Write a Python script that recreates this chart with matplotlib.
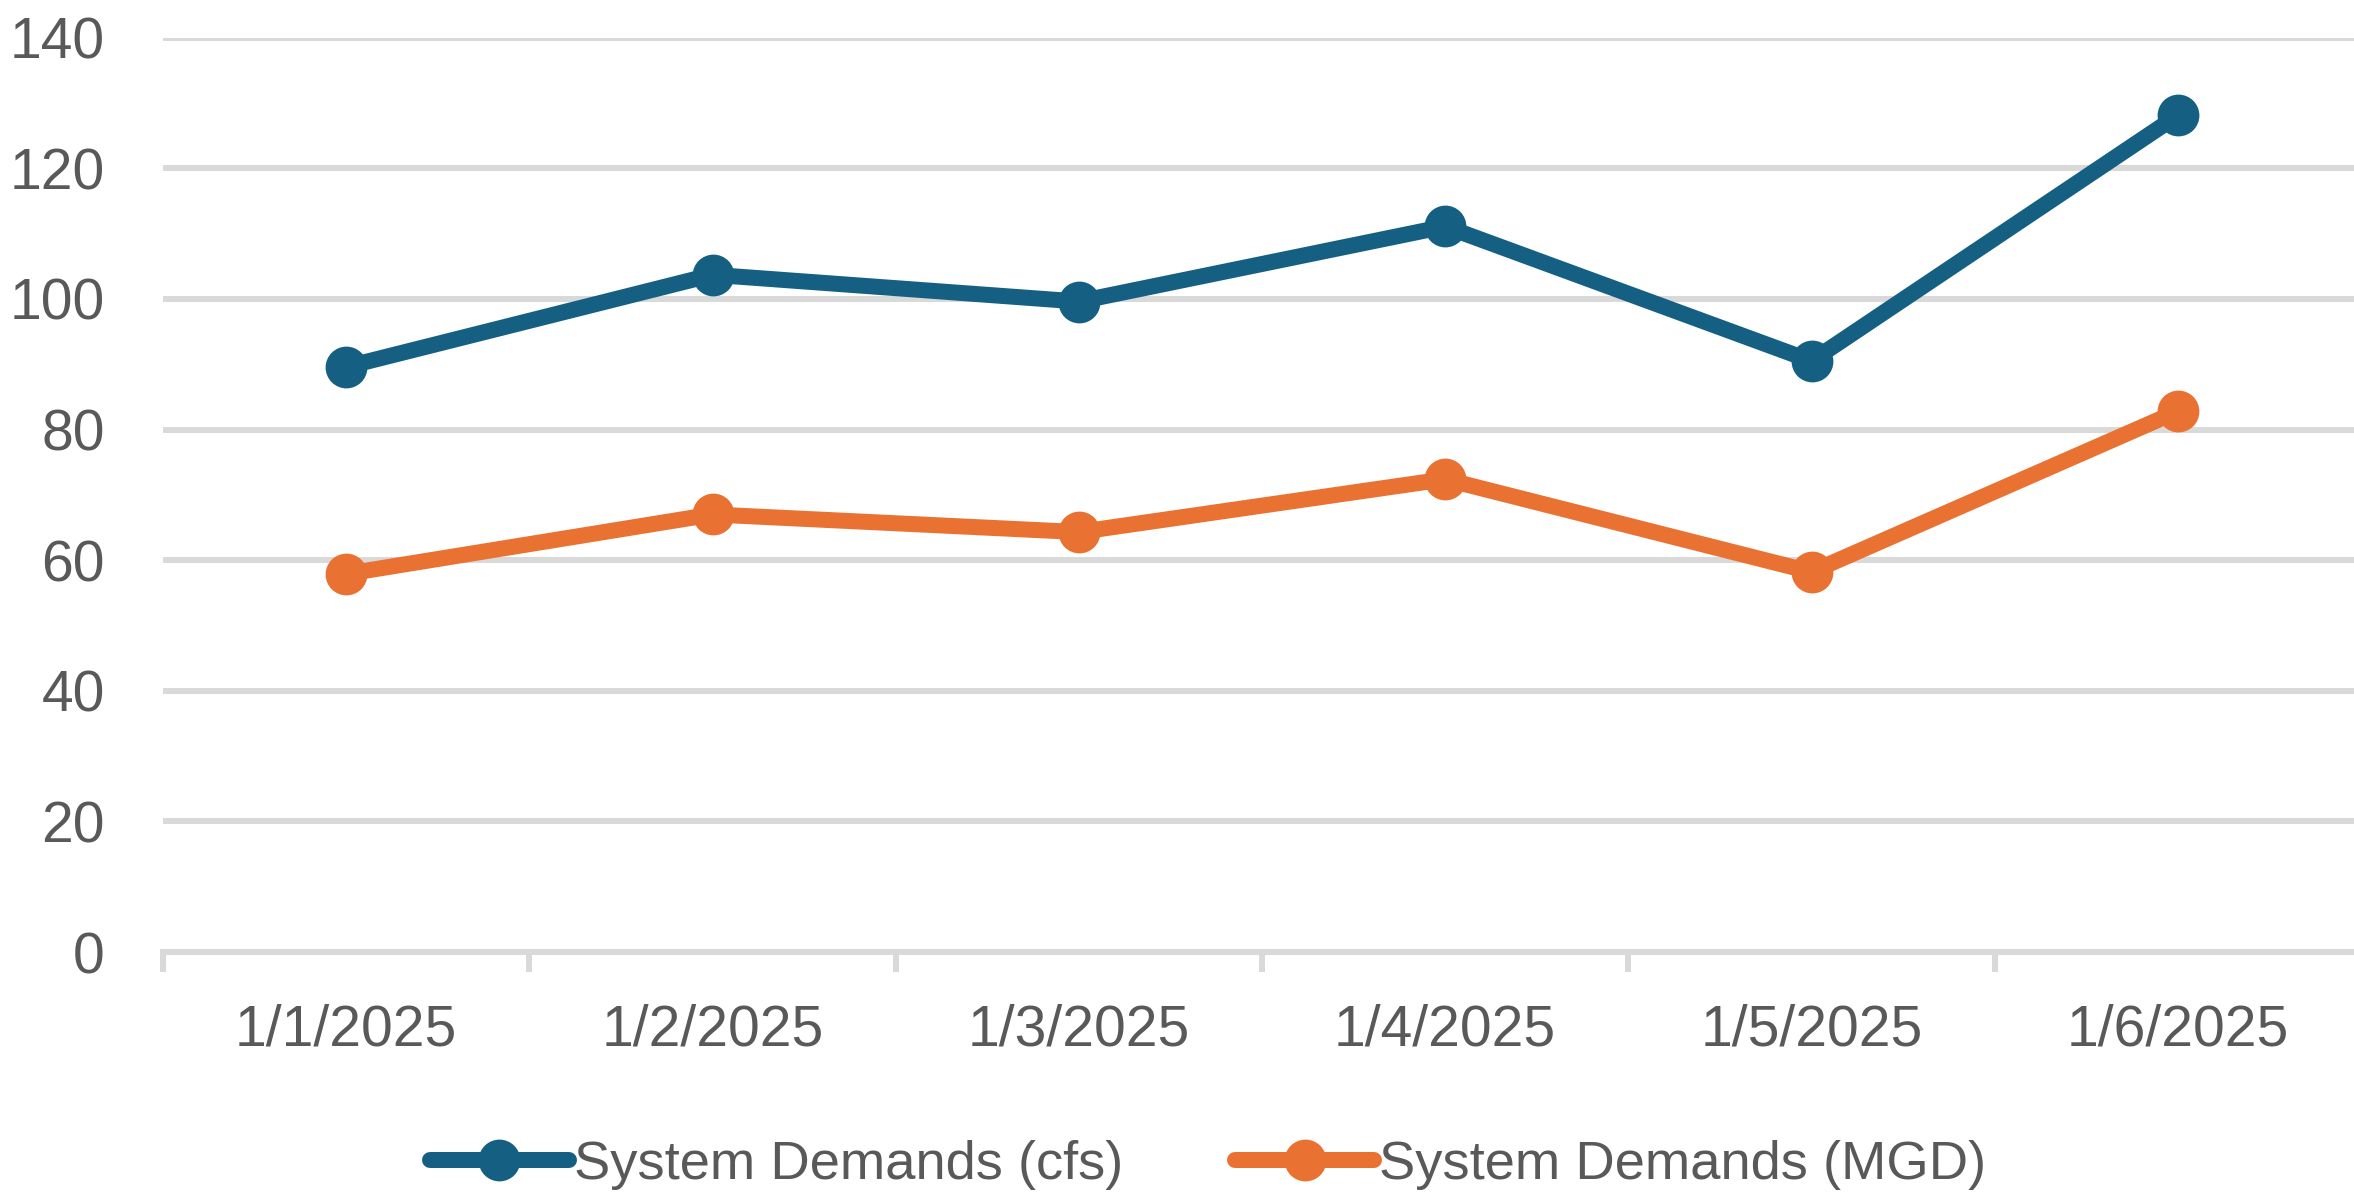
import matplotlib
matplotlib.use("Agg")
import matplotlib.pyplot as plt
from matplotlib.ticker import FixedLocator, NullFormatter, FixedFormatter

# ---- data ----
categories = ["1/1/2025", "1/2/2025", "1/3/2025", "1/4/2025", "1/5/2025", "1/6/2025"]
cfs_values = [89.6, 103.7, 99.6, 111.1, 90.5, 128.1]
mgd_values = [57.9, 67.0, 64.3, 72.4, 58.2, 82.8]
y_ticks = [0, 20, 40, 60, 80, 100, 120, 140]
series_names = ["System Demands (cfs)", "System Demands (MGD)"]

# ---- style ----
DPI = 200
W, H = 2354, 1192
BLUE = "#156082"
ORANGE = "#E97132"
GRID = "#D9D9D9"
TEXT = "#595959"
FONT = ["Liberation Sans", "DejaVu Sans"]
FS = 20.5
LEG_FS = 19.6

plt.rcParams["font.family"] = FONT

fig = plt.figure(figsize=(W / DPI, H / DPI), dpi=DPI)
left = 163 / W
right = 2361 / W
bottom = 1 - 952 / H
top = 1 - 37.7 / H
ax = fig.add_axes([left, bottom, right - left, top - bottom])

x = list(range(len(categories)))
lw = 16 * 72 / DPI
ms = 39 * 72 / DPI
ax.plot(x, cfs_values, color=BLUE, lw=lw, marker="o", ms=ms,
        solid_joinstyle="round", solid_capstyle="round", label=series_names[0], zorder=3)
ax.plot(x, mgd_values, color=ORANGE, lw=lw, marker="o", ms=ms,
        solid_joinstyle="round", solid_capstyle="round", label=series_names[1], zorder=3)

ax.set_xlim(-0.5, len(categories) - 0.5)
ax.set_ylim(0, 140)

# gridlines
ax.set_yticks(y_ticks)
ax.yaxis.grid(True, color=GRID, lw=6 * 72 / DPI)
ax.set_axisbelow(True)
ax.tick_params(axis="y", length=0, pad=21, labelsize=FS, labelcolor=TEXT)

# x axis: boundary ticks (major), labels at centers (minor)
bounds = [i - 0.5 for i in range(len(categories) + 1)]
ax.xaxis.set_major_locator(FixedLocator(bounds))
ax.xaxis.set_major_formatter(NullFormatter())
ax.xaxis.set_minor_locator(FixedLocator(x))
ax.xaxis.set_minor_formatter(FixedFormatter(categories))
ax.tick_params(axis="x", which="major", length=20 * 72 / DPI, width=6 * 72 / DPI, color=GRID)
ax.tick_params(axis="x", which="minor", length=0, pad=18.5, labelsize=FS, labelcolor=TEXT)

for s in ["top", "right", "left"]:
    ax.spines[s].set_visible(False)
ax.spines["bottom"].set_color(GRID)
ax.spines["bottom"].set_linewidth(6 * 72 / DPI)
ax.spines["bottom"].set_zorder(1)

leg = fig.legend(loc="center left", bbox_to_anchor=(430 / W, 1 - 1165 / H), ncol=2,
                 frameon=False, fontsize=LEG_FS, handlelength=2.55, handletextpad=0.1,
                 columnspacing=2.05, borderpad=0, borderaxespad=0)
for t in leg.get_texts():
    t.set_color(TEXT)

fig.savefig("out.png", dpi=DPI)
